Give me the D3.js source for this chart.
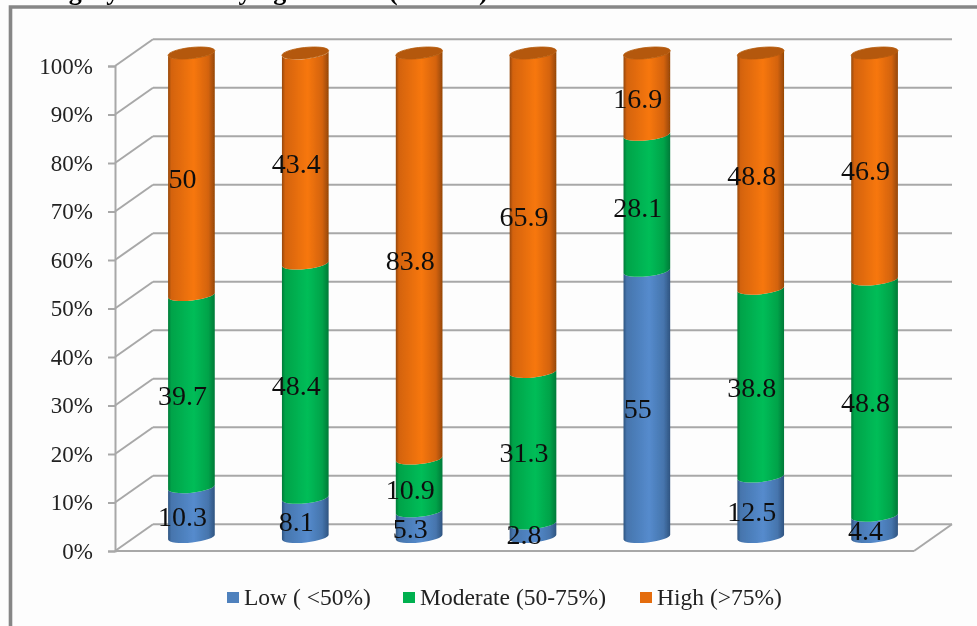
<!DOCTYPE html>
<html>
<head>
<meta charset="utf-8">
<script src="https://cdn.jsdelivr.net/npm/d3@7"></script>
<style>
html, body { margin: 0; padding: 0; background: #fdfdfd; overflow: hidden; }
text { font-family: "Liberation Serif", serif; fill: #111; }
</style>
</head>
<body>
<svg id="chart" width="977" height="626"></svg>
<script>
const categories = ["A", "B", "C", "D", "E", "F", "G"];
const low = [10.3, 8.1, 5.3, 2.8, 55, 12.5, 4.4];
const moderate = [39.7, 48.4, 10.9, 31.3, 28.1, 38.8, 48.8];
const high = [50, 43.4, 83.8, 65.9, 16.9, 48.8, 46.9];
const tickValues = [0, 10, 20, 30, 40, 50, 60, 70, 80, 90, 100];
const seriesNames = ["Low ( <50%)", "Moderate (50-75%)", "High (>75%)"];
// the caption is cropped in the source, only the descenders can be seen
const captionParts = ["category", "varying", "(n =\u00a0\u2026\u00a0\u00a0)"];

const root = d3.select("#chart");
const defs = root.append("defs");

// the source is a soft scan, take the edge off everything a little
defs.append("filter").attr("id", "soft")
  .attr("x", 0).attr("y", 0).attr("width", 1).attr("height", 1)
  .append("feGaussianBlur").attr("stdDeviation", 0.6);
const svg = root.append("g").attr("filter", "url(#soft)");
svg.append("rect").attr("width", 977).attr("height", 626).attr("fill", "#fdfdfd");

// wall offset of the fake 3d box
const depthX = 38, depthY = -26.7;
const yAxis = d3.scaleLinear().domain([0, 100]).range([551, 66]);
const xFloor = d3.scaleLinear().domain([0, 1]).range([115, 914]);
// bars stand halfway back on the floor
const xBar = d3.scaleBand().domain(categories).range([134.5, 931.5]).paddingInner(0.59).paddingOuter(0.295);
const yBar = d3.scaleLinear().domain([0, 100]).range([537, 53]);

const colors = [
  { flat: "#4f81bd", dark: "#2f5480", side: "#4675ad", light: "#558bcd" },
  { flat: "#00b050", dark: "#007a38", side: "#00a349", light: "#00bd58" },
  { flat: "#e46c0a", dark: "#954706", side: "#d4630a", light: "#f7770c" }
];
const lidColor = "#b45808";

colors.forEach((c, i) => {
  const g = defs.append("linearGradient").attr("id", "cyl" + i);
  g.append("stop").attr("offset", "0%").attr("stop-color", c.dark);
  g.append("stop").attr("offset", "7%").attr("stop-color", c.side);
  g.append("stop").attr("offset", "55%").attr("stop-color", c.light);
  g.append("stop").attr("offset", "86%").attr("stop-color", c.side);
  g.append("stop").attr("offset", "100%").attr("stop-color", c.dark);
});

// frame round the chart
svg.append("path")
  .attr("d", "M10.5,626V7H977")
  .attr("fill", "none")
  .attr("stroke", "#868686")
  .attr("stroke-width", 3.6);

const captionX = [24, 201, 389];
captionParts.forEach((part, i) => {
  svg.append("text")
    .attr("x", captionX[i]).attr("y", -0.5)
    .attr("font-size", 26).attr("font-weight", "bold")
    .style("fill", "#000")
    .text(part);
});

const gridColor = "#a8a8a8";
const box = svg.append("g").attr("fill", "none").attr("stroke", gridColor).attr("stroke-width", 2);

// back wall lines and their slants on the side wall
tickValues.forEach(t => {
  const y = yAxis(t);
  box.append("line").attr("x1", xFloor(0)).attr("y1", y).attr("x2", xFloor(0) + depthX).attr("y2", y + depthY);
  box.append("line").attr("x1", xFloor(0) + depthX).attr("y1", y + depthY).attr("x2", xFloor(1) + depthX).attr("y2", y + depthY);
});
box.append("line").attr("x1", xFloor(0)).attr("y1", yAxis(0)).attr("x2", xFloor(1)).attr("y2", yAxis(0));
box.append("line").attr("x1", xFloor(1)).attr("y1", yAxis(0)).attr("x2", xFloor(1) + depthX).attr("y2", yAxis(0) + depthY);

// axis for the ticks and percent labels
const axis = d3.axisLeft(yAxis).tickValues(tickValues).tickSize(7).tickPadding(15).tickFormat(d => d + "%");
const axisG = svg.append("g").attr("transform", "translate(" + xFloor(0) + ",0)").call(axis);
axisG.selectAll("path, line").attr("stroke", gridColor).attr("stroke-width", 2);
axisG.selectAll("text").attr("font-size", 23).attr("dy", "0.32em").style("fill", "#222");

// tilt of the cylinder rims, left side lower than right
const tilt = 2.5, rimRy = 5.5;

function segmentPath(x, w, y0, y1) {
  const rx = w / 2;
  return "M" + x + "," + (y1 + tilt) +
    "A" + rx + "," + rimRy + " -6 0 0 " + (x + w) + "," + (y1 - tilt) +
    "L" + (x + w) + "," + (y0 - tilt) +
    "A" + rx + "," + rimRy + " -6 0 1 " + x + "," + (y0 + tilt) + "Z";
}

function lidPath(x, w, y) {
  const rx = w / 2;
  return "M" + x + "," + (y + tilt) +
    "A" + rx + "," + rimRy + " -6 0 0 " + (x + w) + "," + (y - tilt) +
    "A" + rx + "," + rimRy + " -6 0 0 " + x + "," + (y + tilt) + "Z";
}

const stackData = categories.map((c, i) => ({ cat: c, low: low[i], moderate: moderate[i], high: high[i] }));
const stacked = d3.stack().keys(["low", "moderate", "high"])(stackData);

const bars = svg.append("g");
stacked.forEach((layer, s) => {
  bars.selectAll("path.seg" + s)
    .data(layer)
    .enter()
    .append("path")
    .attr("class", "seg" + s)
    .attr("fill", "url(#cyl" + s + ")")
    .attr("d", d => segmentPath(xBar(d.data.cat), xBar.bandwidth(), yBar(d[0]), yBar(d[1])));
});

// orange lids, the stroke closes the hairline against the body
bars.selectAll("path.lid")
  .data(categories)
  .enter()
  .append("path")
  .attr("class", "lid")
  .attr("d", d => lidPath(xBar(d), xBar.bandwidth(), yBar(100)))
  .attr("fill", lidColor)
  .attr("stroke", lidColor)
  .attr("stroke-width", 0.8);

// value labels, these sit left of the bar centre in the source
const labels = svg.append("g");
stacked.forEach((layer, s) => {
  labels.selectAll("text.lab" + s)
    .data(layer)
    .enter()
    .append("text")
    .attr("class", "lab" + s)
    .attr("x", d => xBar(d.data.cat) + xBar.bandwidth() / 2 - 9)
    .attr("y", d => yBar((d[0] + d[1]) / 2) + 14)
    .attr("text-anchor", "middle")
    .attr("font-size", 28)
    .text(d => +(d[1] - d[0]).toFixed(1));
});

// legend
const legendX = [227, 403, 640];
const legend = svg.append("g");
seriesNames.forEach((name, i) => {
  legend.append("rect")
    .attr("x", legendX[i]).attr("y", 592).attr("width", 12).attr("height", 11)
    .attr("fill", colors[i].flat);
  legend.append("text")
    .attr("x", legendX[i] + 17).attr("y", 605)
    .attr("font-size", 23.5)
    .style("fill", "#222")
    .text(name);
});
</script>
</body>
</html>
